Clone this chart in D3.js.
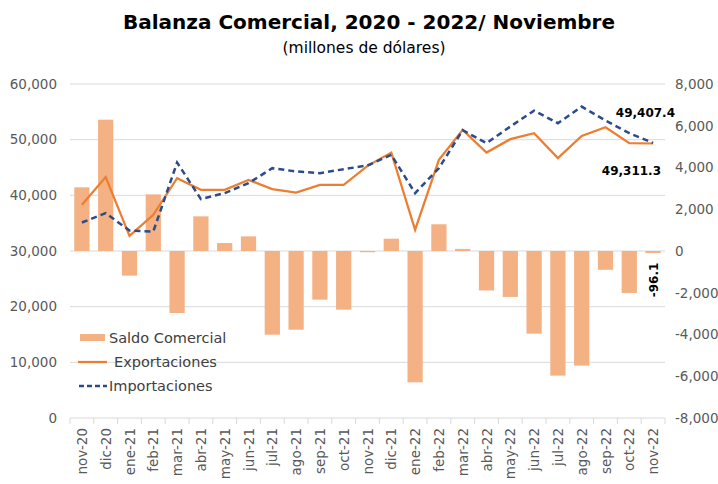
<!DOCTYPE html>
<html>
  <head>
    <meta charset="utf-8">
    <title>Balanza Comercial</title>
    <script src="https://cdn.jsdelivr.net/npm/d3@7"></script>
    <style>
      body { margin: 0; background: #fff; font-family: "DejaVu Sans", sans-serif; }
      #chart { display: block; }
      .title { font-weight: bold; font-size: 20px; fill: #000; }
      .subtitle { font-size: 15.5px; fill: #000; }
      .axis text { font-size: 13.5px; fill: #595959; font-family: "DejaVu Sans", sans-serif; }
      .axis path, .axis line { stroke: #d9d9d9; }
      .grid line { stroke: #d9d9d9; stroke-width: 1; }
      .legend text { font-size: 14.5px; fill: #404040; }
      .note { font-size: 12px; font-weight: bold; fill: #000; }
    </style>
  </head>

  <body>
    <svg id="chart" width="718" height="484"></svg>

    <script>
      // data (millones de dólares)
      months = ["nov-20", "dic-20", "ene-21", "feb-21", "mar-21", "abr-21", "may-21", "jun-21",
        "jul-21", "ago-21", "sep-21", "oct-21", "nov-21", "dic-21", "ene-22", "feb-22", "mar-22",
        "abr-22", "may-22", "jun-22", "jul-22", "ago-22", "sep-22", "oct-22", "nov-22"];
      exportaciones = [38300, 43270, 32730, 36500, 43090, 40990, 40990, 42780, 41110, 40500, 41880,
        41880, 45300, 47680, 33810, 46370, 51760, 47680, 50090, 51170, 46680, 50680, 52240, 49370, 49311.3];
      importaciones = [35120, 36800, 33680, 33500, 45890, 39320, 40400, 42190, 44880, 44290, 43990,
        44700, 45360, 47270, 40400, 44880, 51700, 49370, 52350, 55220, 52960, 55940, 53430, 51170, 49407.4];
      saldo = [3050, 6290, -1180, 2710, -2970, 1660, 380, 700, -4010, -3770, -2330, -2810, -60,
        590, -6290, 1280, 100, -1890, -2200, -3960, -5970, -5490, -900, -2010, -96.1];
      leftTicks = [0, 10000, 20000, 30000, 40000, 50000, 60000];
      rightTicks = [-8000, -6000, -4000, -2000, 0, 2000, 4000, 6000, 8000];

      // plain hyphen for negatives, like the original
      fmt = d3.formatLocale({ decimal: ".", thousands: ",", grouping: [3], currency: ["$", ""], minus: "-" });
      fmtInt = fmt.format(",.0f");
      fmtDec = fmt.format(",.1f");

      // elements
      chart = d3.select("#chart");
      width = 718;
      height = 484;
      margin = { top: 84, right: 53, bottom: 66, left: 70 };

      x = d3.scaleBand()
        .domain(months)
        .range([margin.left, width - margin.right])
        .paddingInner(0.36)
        .paddingOuter(0.18);
      yLeft = d3.scaleLinear()
        .domain([0, 60000])
        .range([height - margin.bottom, margin.top]);
      yRight = d3.scaleLinear()
        .domain([-8000, 8000])
        .range([height - margin.bottom, margin.top]);

      // titles
      chart.append("text")
        .attr("class", "title")
        .attr("x", 369)
        .attr("y", 29)
        .attr("text-anchor", "middle")
        .text("Balanza Comercial, 2020 - 2022/ Noviembre");
      chart.append("text")
        .attr("class", "subtitle")
        .attr("x", 364)
        .attr("y", 53)
        .attr("text-anchor", "middle")
        .text("(millones de dólares)");

      // gridlines
      chart.append("g")
        .attr("class", "grid")
        .selectAll("line")
          .data(leftTicks.slice(1))
        .enter().append("line")
          .attr("x1", margin.left)
          .attr("x2", width - margin.right)
          .attr("y1", function(d) { return yLeft(d); })
          .attr("y2", function(d) { return yLeft(d); });

      // axes
      yLeftAxis = d3.axisLeft(yLeft)
        .tickValues(leftTicks)
        .tickFormat(fmtInt)
        .tickSize(0)
        .tickPadding(13);
      chart.append("g")
        .attr("class", "axis")
        .attr("transform", "translate(" + margin.left + ",0)")
        .call(yLeftAxis)
        .call(function(g) { g.select(".domain").remove(); });

      yRightAxis = d3.axisRight(yRight)
        .tickValues(rightTicks)
        .tickFormat(fmtInt)
        .tickSize(0)
        .tickPadding(10);
      chart.append("g")
        .attr("class", "axis")
        .attr("transform", "translate(" + (width - margin.right) + ",0)")
        .call(yRightAxis)
        .call(function(g) { g.select(".domain").remove(); });

      // bars
      chart.append("g")
        .selectAll("rect")
          .data(saldo)
        .enter().append("rect")
          .attr("x", function(d, i) { return x(months[i]); })
          .attr("width", x.bandwidth())
          .attr("y", function(d) { return yRight(Math.max(0, d)); })
          .attr("height", function(d) { return Math.max(1, Math.abs(yRight(d) - yRight(0))); })
          .attr("fill", "#f4b183");

      // bottom axis, ticks between categories
      bandEdge = d3.scaleLinear()
        .domain([0, months.length])
        .range([margin.left, width - margin.right]);
      xAxisGroup = chart.append("g")
        .attr("class", "axis")
        .attr("transform", "translate(0," + (height - margin.bottom) + ")");
      xAxisGroup.append("line")
        .attr("x1", margin.left)
        .attr("x2", width - margin.right);
      xAxisGroup.selectAll(".tick")
        .data(d3.range(months.length + 1))
        .enter().append("line")
          .attr("x1", function(d) { return bandEdge(d); })
          .attr("x2", function(d) { return bandEdge(d); })
          .attr("y1", 0)
          .attr("y2", 6);
      xAxisGroup.selectAll(".label")
        .data(months)
        .enter().append("text")
          .attr("transform", function(d) { return "translate(" + (x(d) + x.bandwidth() / 2 + 5) + ",10) rotate(-90)"; })
          .attr("text-anchor", "end")
          .text(function(d) { return d; });

      // lines
      line = d3.line()
        .x(function(d, i) { return x(months[i]) + x.bandwidth() / 2; })
        .y(function(d) { return yLeft(d); });
      chart.append("path")
        .datum(exportaciones)
        .attr("d", line)
        .attr("fill", "none")
        .attr("stroke", "#ed7d31")
        .attr("stroke-width", 2.25);
      chart.append("path")
        .datum(importaciones)
        .attr("d", line)
        .attr("fill", "none")
        .attr("stroke", "#2b4c8c")
        .attr("stroke-width", 2.5)
        .attr("stroke-dasharray", "6,4");

      // data labels
      last = months.length - 1;
      chart.append("text")
        .attr("class", "note")
        .attr("x", 675)
        .attr("y", yLeft(importaciones[last]) - 26)
        .attr("text-anchor", "end")
        .text(fmtDec(importaciones[last]));
      chart.append("text")
        .attr("class", "note")
        .attr("x", 661)
        .attr("y", yLeft(exportaciones[last]) + 31)
        .attr("text-anchor", "end")
        .text(fmtDec(exportaciones[last]));
      chart.append("text")
        .attr("class", "note")
        .attr("transform", "translate(" + (x(months[last]) + x.bandwidth() / 2 + 5) + "," + (yRight(saldo[last]) + 27) + ") rotate(-90)")
        .attr("text-anchor", "middle")
        .text(fmtDec(saldo[last]));

      // legend
      legend = chart.append("g").attr("class", "legend");
      legendItems = ["Saldo Comercial", "Exportaciones", "Importaciones"];
      legend.append("rect")
        .attr("x", 80).attr("y", 334).attr("width", 25).attr("height", 7)
        .attr("fill", "#f4b183");
      legend.append("line")
        .attr("x1", 78).attr("x2", 107).attr("y1", 362).attr("y2", 362)
        .attr("stroke", "#ed7d31").attr("stroke-width", 2.25);
      legend.append("line")
        .attr("x1", 79).attr("x2", 107).attr("y1", 386).attr("y2", 386)
        .attr("stroke", "#2b4c8c").attr("stroke-width", 2.5).attr("stroke-dasharray", "5,3");
      legend.selectAll("text")
        .data(legendItems)
        .enter().append("text")
          .attr("x", function(d, i) { return i == 1 ? 114 : 109; })
          .attr("y", function(d, i) { return 343 + i * 24; })
          .text(function(d) { return d; });
    </script>
  </body>
</html>
